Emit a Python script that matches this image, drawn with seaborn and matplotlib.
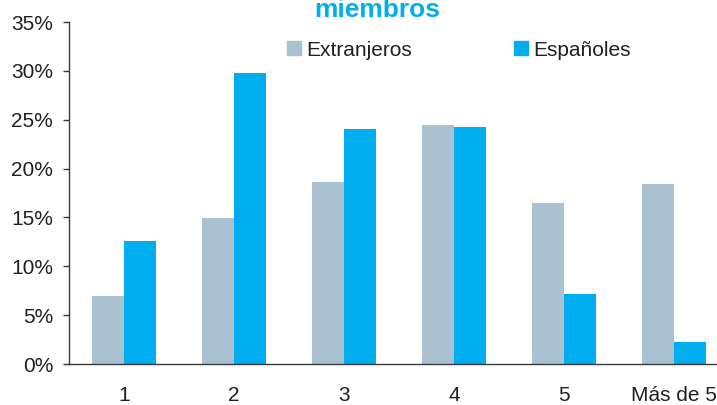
import numpy as np
import pandas as pd
import matplotlib
matplotlib.use("Agg")
import matplotlib.pyplot as plt
import seaborn as sns

# -- data --
categorias = ["1", "2", "3", "4", "5", "Más de 5"]
extranjeros = [7.0, 14.9, 18.6, 24.5, 16.5, 18.4]
espanoles = [12.6, 29.75, 24.1, 24.3, 7.15, 2.25]
series = ["Extranjeros", "Españoles"]
colores = ["#A9C1D1", "#00AEEF"]
yticks = [0, 5, 10, 15, 20, 25, 30, 35]

df = pd.DataFrame({
    "miembros": categorias * 2,
    "pct": extranjeros + espanoles,
    "grupo": [series[0]] * len(categorias) + [series[1]] * len(categorias),
})

sns.set_style("white")
plt.rcParams["font.family"] = ["Liberation Sans", "DejaVu Sans"]
txt = "#231F20"
spine = "#3A3A3A"

fig = plt.figure(figsize=(7.17, 4.05), dpi=100)
ax = fig.add_axes([69 / 717, 41 / 405, 660 / 717, 342 / 405])

sns.barplot(data=df, x="miembros", y="pct", hue="grupo", order=categorias,
            hue_order=series, palette=colores, width=0.575, saturation=1,
            linewidth=0, legend=False, ax=ax)

ax.set_xlim(-0.5, len(categorias) - 0.5)
ax.set_ylim(0, 35)
ax.set_yticks(yticks)
ax.set_yticklabels([f"{v}%" for v in yticks])
ax.set_xlabel("")
ax.set_ylabel("")

# boundary tick marks between categories, labels at category centres
ax.set_xticks(np.arange(len(categorias) + 1) - 0.5, minor=True)
ax.tick_params(axis="x", which="major", length=0, pad=15.5, labelsize=15, labelcolor=txt)
ax.tick_params(axis="x", which="minor", length=4.5, width=1, color=spine, direction="out")
ax.tick_params(axis="y", length=4.5, width=1, color=spine, pad=7, labelsize=15,
               labelcolor=txt, direction="out", left=True)

for s in ["top", "right"]:
    ax.spines[s].set_visible(False)
for s in ["left", "bottom"]:
    ax.spines[s].set_color(spine)
    ax.spines[s].set_linewidth(1)

handles = [plt.Rectangle((0, 0), 1, 1, color=c) for c in colores]
fig.legend(handles, series, loc="center left", bbox_to_anchor=(287 / 717, 1 - 50 / 405),
           ncol=2, frameon=False, fontsize=15, handlelength=0.67, handleheight=0.67,
           handletextpad=0.25, columnspacing=4.9, borderpad=0, borderaxespad=0,
           labelcolor=txt)

fig.text(377 / 717, 1 - 17 / 405, "miembros", ha="center", va="baseline",
         fontsize=19, fontweight="bold", color="#00AEEF")

fig.savefig("out.png", dpi=100)
